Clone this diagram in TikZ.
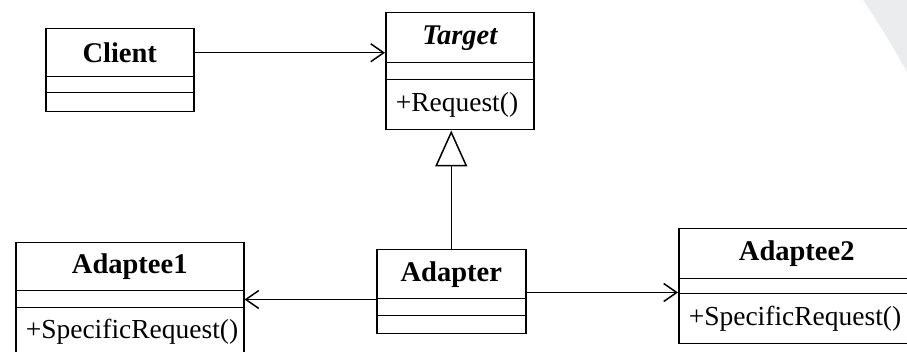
\documentclass[tikz,border=0pt]{standalone}
\usepackage{fontspec}
\setmainfont{Liberation Serif}
\usetikzlibrary{arrows.meta}
\definecolor{wm}{RGB}{235,236,238}
\tikzset{
  comp/.style={draw, line width=1.5pt, inner sep=0pt, anchor=north west},
  namecomp/.style={comp, font=\fontsize{28.5}{32}\selectfont\bfseries},
  opcomp/.style={comp, font=\fontsize{27.5}{31}\selectfont, inner xsep=10pt, align=left},
  assoc/.style={line width=1.5pt, -{Straight Barb[length=13pt,width=18pt,line width=1.5pt]}},
  gen/.style={line width=1.5pt, -{Triangle[open,length=36pt,width=32pt,line width=1.5pt,fill=white]}},
}
\begin{document}
\begin{tikzpicture}[x=1pt,y=-1pt]
\useasboundingbox (0,0) rectangle (907,352);
\clip (0,0) rectangle (907,352);
\fill[wm] (863,0) -- (907,0) -- (907,72) .. controls (892,45) and (878,22) .. (863,0) -- cycle;

% Client
\node[namecomp, minimum width=148pt, minimum height=48pt] (clientname) at (45,28) {Client};
\node[comp, minimum width=148pt, minimum height=16pt] (clientattr) at (45,76) {};
\node[comp, minimum width=148pt, minimum height=19pt] (clientops) at (45,92) {};

% Target
\node[namecomp, minimum width=148pt, minimum height=50pt] (targetname) at (385,12) {\itshape Target};
\node[comp, minimum width=148pt, minimum height=17pt] (targetattr) at (385,62) {};
\node[opcomp, text width=128pt, minimum height=50pt] (targetops) at (385,79) {+Request()};

% Adaptee1
\node[namecomp, minimum width=228pt, minimum height=48pt] (adaptee1name) at (15,242) {Adaptee1};
\node[comp, minimum width=228pt, minimum height=17pt] (adaptee1attr) at (15,290) {};
\node[opcomp, text width=208pt, minimum height=48pt] (adaptee1ops) at (15,307) {+SpecificRequest()};

% Adapter
\node[namecomp, minimum width=149pt, minimum height=49pt] (adaptername) at (376,249) {Adapter};
\node[comp, minimum width=149pt, minimum height=17pt] (adapterattr) at (376,298) {};
\node[comp, minimum width=149pt, minimum height=18pt] (adapterops) at (376,315) {};

% Adaptee2
\node[namecomp, minimum width=236pt, minimum height=50pt] (adaptee2name) at (678,228) {Adaptee2};
\node[comp, minimum width=236pt, minimum height=15pt] (adaptee2attr) at (678,278) {};
\node[opcomp, text width=216pt, minimum height=50pt] (adaptee2ops) at (678,293) {+SpecificRequest()};

% connectors
\draw[assoc] (clientname.east) -- (clientname.east -| targetname.west);
\draw[gen] (adaptername.north) -- (adaptername.north |- targetops.south);
\draw[assoc] (adaptername.south west) -- (adaptername.south west -| adaptee1attr.east);
\draw[assoc] ([yshift=7pt]adaptername.south east) -- ([yshift=7pt]adaptername.south east -| adaptee2attr.west);
\end{tikzpicture}
\end{document}
